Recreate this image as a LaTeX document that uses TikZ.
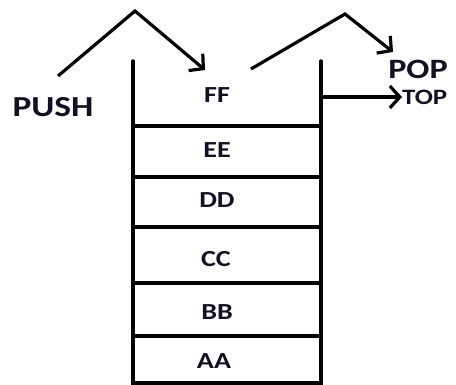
\documentclass[tikz,border=0pt]{standalone}
\usepackage{fontspec}
\setmainfont{Carlito}
\newfontfamily\widebold[FakeStretch=1.22]{Carlito}
\usetikzlibrary{arrows.meta, positioning}
\definecolor{inkdark}{HTML}{111122}
\tikzstyle{wall} = [line width=3.4pt, color=black, line cap=round]
\tikzstyle{arrow} = [line width=3.2pt, color=black, -{Straight Barb[length=10pt, width=22pt, line width=3.2pt]}]
\tikzstyle{cell} = [font=\widebold\bfseries\fontsize{23}{23}\selectfont, text=inkdark, inner sep=0pt]
\tikzstyle{oplabel} = [font=\widebold\bfseries\fontsize{29}{29}\selectfont, text=inkdark, inner sep=0pt]

\begin{document}
\begin{tikzpicture}[x=1pt, y=-1pt]
    \useasboundingbox (0,0) rectangle (456,385);
    % stack walls
    \coordinate (lefttop) at (133,61);
    \coordinate (leftbot) at (133,383);
    \coordinate (rightbot) at (321,383);
    \coordinate (righttop) at (321,61);
    \draw[wall] (lefttop) -- (leftbot) -- (rightbot) -- (righttop);
    \foreach \y in {126,177,227,283,336}
        \draw[wall] (133,\y) -- (321,\y);

    % stack entries
    \node[cell] (ff) at (217,95) {FF};
    \node[cell] (ee) at (217,150) {EE};
    \node[cell] (dd) at (217,200) {DD};
    \node[cell] (cc) at (216,259) {CC};
    \node[cell] (bb) at (217,312) {BB};
    \node[cell] (aa) at (214,361) {AA};

    % push
    \node[oplabel] (push) at (53,107) {PUSH};
    \coordinate (pushstart) at (58,76);
    \coordinate (pushpeak) at (135,11);
    \coordinate (pushend) at (205,70);
    \draw[arrow] (pushstart) -- (pushpeak) -- (pushend);

    % pop
    \node[oplabel, font=\widebold\bfseries\fontsize{28}{28}\selectfont] (pop) at (418,69) {POP};
    \coordinate (popstart) at (251,69);
    \coordinate (poppeak) at (345,14);
    \coordinate (popend) at (393,52);
    \draw[arrow] (popstart) -- (poppeak) -- (popend);

    % top pointer
    \node[oplabel, font=\widebold\bfseries\fontsize{22}{22}\selectfont, anchor=west] (top) at (402,97) {TOP};
    \coordinate (topstart) at (321,97);
    \draw[arrow] (topstart) -- (top.west);
\end{tikzpicture}
\end{document}
